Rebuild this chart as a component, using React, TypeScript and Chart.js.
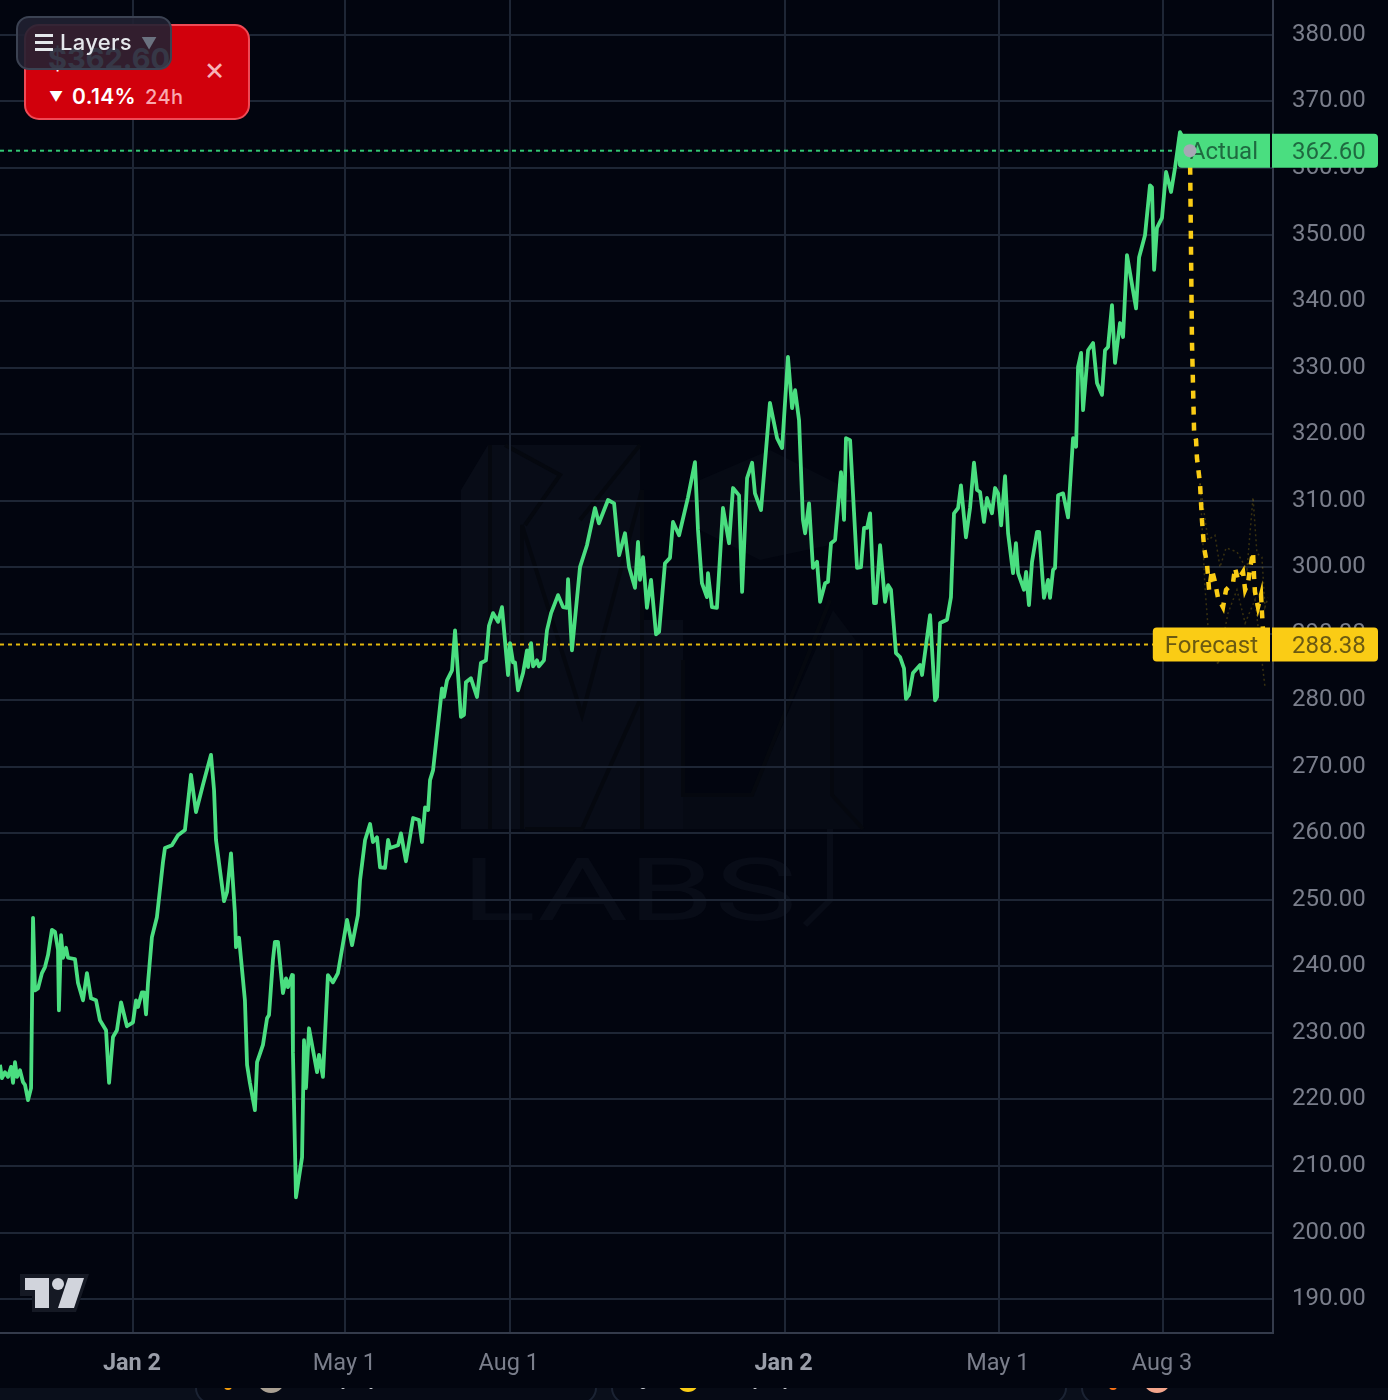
import React, { useEffect, useRef } from "react";
import { Chart, registerables } from "chart.js";

Chart.register(...registerables);

// days counted from the first "Jan 2" tick
const actualDays = [-74.5,-73.4,-71.7,-70,-68.3,-67.2,-66.1,-65,-63.3,-61.6,-60.5,-58.8,-57.1,-56,-54.9,-53.2,-51,-49.3,-47.6,-45.4,-43.7,-42,-41.5,-40.3,-39.2,-37.5,-36.4,-32.5,-30.8,-28,-25.8,-23.5,-20.7,-18.5,-15.1,-13.4,-11.2,-9,-6.7,-3.4,0,1.7,2.8,5,6.2,7.3,8.4,10.6,13.4,15.7,16.8,17.9,21.8,25.2,29.1,32.5,35.3,39.2,43.7,45.4,46.5,51,52.7,54.9,57.1,57.7,59.4,62.7,63.9,65.5,68.3,69.5,72.8,75.1,76.2,78.4,79.5,81.2,84,85.7,86.8,89.1,89.6,91.3,94.7,95.8,96.9,98.6,103.1,104.2,106.4,109.2,112,114.8,119.9,122.7,126,127.2,130,132.8,134.4,136.7,138.4,141.2,142.9,144,148.5,150.1,152.9,156.9,160.2,161.9,163.6,165.3,166.4,168.1,173.1,174.2,175.9,178.7,180.4,183.7,185.4,186.5,189.3,192.7,194.9,197.7,199.4,201.7,204.5,206.7,210.1,211.2,212.9,214,215.7,218.5,220.7,221.3,223,224.1,226.3,227.4,230.2,231.9,234.2,238.1,240.9,243.1,243.7,245.9,250.4,254.3,258.8,261,266.1,269.5,272.3,275.6,277.9,281.2,282.9,284,285.7,287.9,290.2,293,294.7,298,300.8,302.5,305.9,310.9,314.8,316.5,318.7,321.5,322.1,324.3,327.1,330.5,333.9,336.1,339.5,341.2,344,346.8,348.4,351.8,356.8,360.8,363.6,366.9,369.2,370.9,373.1,375.3,376.5,378.7,380.9,383.2,384.9,387.7,389.3,391,393.3,396.6,398.3,399.4,401.7,405.6,407.8,409.5,411.2,412.9,415.1,416.2,418.5,421.3,423,424.6,427.4,429.7,431.9,433,434.7,436.9,440.9,442,446.5,449.3,450.4,452.1,456,458.2,459.9,462.2,463.8,466.6,468.9,471.1,472.8,474.5,476.7,478.4,481.2,482.9,484.6,486.3,488.5,490.2,493,494.6,495.8,499.1,500.3,501.9,503.6,506.4,507.6,510.3,512.6,513.7,515.4,516.5,518.2,521,523.8,526.6,528.3,529.4,531.1,532.2,535,537.8,540,542.8,544.5,546.2,548.4,550.1,552.9,554.6,556.8,561.9,563.6,566.9,569.7,570.8,572,573.6,576.4,578.7,581.5,583.7,586.5,592.1];
const actualPrices = [225.2,223.2,224.1,223.4,224.9,222.5,225.6,223.4,224.4,222.6,222.2,219.9,221.7,247.3,236.4,236.7,239,239.9,241.7,245.5,245.2,242.5,233.4,244.7,241.3,242.8,241.3,241.1,237.5,234.9,239,235.2,234.9,231.9,230.4,222.5,229.4,230.4,234.6,231,231.6,234.9,233.9,236.1,236.1,232.8,237.5,244.4,247.4,253,255.7,257.8,258.2,259.7,260.5,268.8,263.2,267.3,271.8,266.5,259,249.8,251.2,257,248,242.9,244.3,234.9,225.2,222.5,218.4,225.6,228.2,232.2,232.7,241,243.7,243.7,236,238.2,236.9,238.7,227,205.3,211.3,228.9,221.7,230.7,224.1,226.7,223.4,238.7,237.6,239,247,243.2,247.7,253,259,261.4,258.7,259.4,254.9,254.8,259,257.8,258.2,260,255.8,262.3,262,258.7,263.9,263.5,268,269.5,281.8,280.5,283,284.5,290.5,277.5,277.8,282.7,283.3,280.5,285.6,286,291.2,293.1,291.8,294,283.8,288.6,285.7,285.7,281.5,284.1,287.5,285,288.6,285.1,286,285.1,286,290.5,293.1,295.8,294,293.9,298.2,287.5,300,303.3,308.9,306.6,310.1,309.6,301.8,305.1,300,296.9,303.8,298.1,301.5,293.9,298.1,289.9,290.3,300.6,301.4,306.8,304.8,310.5,315.8,305.6,297.6,295.5,299.1,294,293.9,308.9,303.6,311.9,310.8,296.3,313.4,315.7,311.1,308.6,324.7,319.4,317.9,331.6,323.9,326.6,322.1,307.1,305.1,309.6,299.9,300.8,294.8,297.6,297.8,303.6,304.1,314.3,307.1,319.4,319.1,299.9,300,305.9,305.9,308.1,294.6,294.6,303.3,294.8,297.3,296.6,287.1,286.5,284.8,280.2,280.8,284.1,285.3,283.8,292.8,280,280.5,291.6,292.1,295.5,308.1,308.9,312.3,304.5,308.9,315.7,311.6,311.3,306.8,310.4,308.1,311.9,311.1,306.3,313.7,305.1,299.1,303.6,299.1,296.6,299.3,294.3,300.8,305.3,305.3,295.4,298.1,295.4,299.6,299.9,310.8,311.1,307.5,319.4,318.1,330.1,332.2,323.6,332.6,333.7,327.7,325.9,332.6,333.1,339.4,330.7,336.7,334.6,346.9,338.9,346.6,349.9,357.4,357.1,344.7,351,352.5,359.4,356.4,360,365.4,362.6];

const forecastDays = [592.1,593.2,594.4,595.5,596,597.7,598.8,600,601.6,602.8,604.4,606.1,607.8,610.6,612.3,616.2,617.3,619,621.8,623,624.6,625.8,627.4,628,628.5,630.2,631.9,632.4,633,634.1];
const forecastPrices = [362.6,334.1,320.3,319.1,316.4,312.6,307.1,302.9,300.6,296.6,299.6,297.8,295.4,294,296.6,297.6,299.9,298.1,299.3,296.6,297.6,299.9,302.3,298.5,296.3,294,295.8,293.3,290.5,288.4];

const upperDays = [597.7,602.2,606.1,608.9,612.3,618.4,624,627.4,629.6,632.4,634.1,635.8];
const upperPrices = [312.6,304.1,304.8,300,302.9,302.3,299.6,310.5,302.1,301.5,294,295.4];
const lowerDays = [597.7,600.5,602.2,607.8,613.4,618.4,623,628.5,634.1];
const lowerPrices = [312.6,297,291,285.3,293.1,296.6,291.6,295.1,282];

const priceTicks = [190,200,210,220,230,240,250,260,270,280,290,300,310,320,330,340,350,360,370,380];
const dayTicks = [0,119,211,365,485,577];
const dayLabels = ["Jan 2","May 1","Aug 1","Jan 2","May 1","Aug 3"];
const yearStartTicks = [0,365];

const ACTUAL_PRICE = 362.6;
const FORECAST_PRICE = 288.38;
const DAY_MIN = -74.5;
const DAY_MAX = 638.6;
const PRICE_MIN = 184.9;
const PRICE_MAX = 385.25;
const FONT = "Roboto, 'Noto Sans', sans-serif";

const zip = (xs: number[], ys: number[]) => xs.map((x, i) => ({ x, y: ys[i] }));

function roundTag(ctx: CanvasRenderingContext2D, x: number, y: number, w: number, h: number, radii: number[]) {
  ctx.beginPath();
  ctx.roundRect(x, y, w, h, radii);
  ctx.fill();
}

const tagPlugin = {
  id: "priceTags",
  beforeDatasetDraw(chart: any, args: any) {
    if (args.index !== 0) return;
    const { ctx, chartArea, scales } = chart;
    const draw = (label: string, price: number, bg: string, fg: string) => {
      const y = scales.y.getPixelForValue(price);
      ctx.save();
      ctx.font = `24px ${FONT}`;
      const w = ctx.measureText(label).width + 24;
      const right = chartArea.right - 3;
      ctx.fillStyle = bg;
      roundTag(ctx, right - w, y - 17, w, 34, [4, 0, 0, 4]);
      roundTag(ctx, chartArea.right - 1, y - 17, 106, 34, [0, 4, 4, 0]);
      ctx.fillStyle = fg;
      ctx.textBaseline = "middle";
      ctx.textAlign = "left";
      ctx.fillText(label, right - w + 12, y + 2);
      ctx.fillText(price.toFixed(2), chartArea.right + 19, y + 2);
      ctx.restore();
    };
    draw("Forecast", FORECAST_PRICE, "#facc15", "#6b5a12");
    draw("Actual", ACTUAL_PRICE, "#4ade80", "#1f6a40");
  },
};

function Watermark() {
  const fill = "#080c17";
  const soft = "#060a14";
  const dark = "#05080f";
  return (
    <svg width={1388} height={1388} style={{ position: "absolute", left: 0, top: 0 }}>
      <polygon fill={fill} points="461,490 488,445 640,445 640,620 683,620 683,829 461,829" />
      <polygon fill={soft} points="683,795 752,795 833,610 863,650 863,829 683,829" />
      <polygon fill={soft} points="700,480 770,450 850,490 830,545 760,560 700,530" />
      <polyline fill="none" stroke={dark} strokeWidth={4} points="490,445 490,829" />
      <polyline fill="none" stroke={dark} strokeWidth={4} points="522,829 522,525 582,715 642,490 642,829" />
      <polyline fill="none" stroke={dark} strokeWidth={4} points="525,829 582,829 640,700" />
      <polyline fill="none" stroke={dark} strokeWidth={4} points="505,445 560,475 525,525" />
      <polyline fill="none" stroke={dark} strokeWidth={4} points="640,445 580,520" />
      <polyline fill="none" stroke={dark} strokeWidth={4} points="683,660 683,795 752,795 830,600" />
      <polyline fill="none" stroke={dark} strokeWidth={4} points="832,650 832,795 863,829" />
      <polyline fill="none" stroke={fill} strokeWidth={6} points="830,829 830,900 805,925" />
      <text x={461} y={920} fontFamily="Roboto, sans-serif" fontSize={88} fill={fill} textLength={336} lengthAdjust="spacingAndGlyphs">LABS</text>
    </svg>
  );
}

function TradingViewLogo() {
  return (
    <svg width={100} height={60} style={{ position: "absolute", left: 0, top: 1264 }}>
      <g transform="translate(0,-1264)">
        <polygon fill="#151924" points="20,1274 89,1274 76,1312 32,1312 32,1296 20,1296" />
        <polygon fill="#d1d4dc" points="25,1278 49,1278 49,1308 35,1308 35,1290 25,1290" />
        <circle cx={58} cy={1284} r={6} fill="#d1d4dc" />
        <polygon fill="#d1d4dc" points="68,1278 84,1278 74,1308 58,1308" />
      </g>
    </svg>
  );
}

function Pill({ left, right }: { left: number; right: number }) {
  return (
    <div
      style={{
        position: "absolute",
        left,
        width: right - left,
        top: 1340,
        height: 64,
        boxSizing: "border-box",
        border: "2px solid #1b2333",
        borderRadius: 16,
        background: "#060a15",
      }}
    />
  );
}

function Blob({ x, y, r, color }: { x: number; y: number; r: number; color: string }) {
  return (
    <div
      style={{
        position: "absolute",
        left: x - r,
        top: y - r,
        width: 2 * r,
        height: 2 * r,
        borderRadius: "50%",
        background: color,
      }}
    />
  );
}

function StatusCard() {
  const inter = "Inter, 'DejaVu Sans', sans-serif";
  const bar = (top: number) => (
    <div style={{ position: "absolute", left: 17, top, width: 18, height: 3, background: "#e5e7eb" }} />
  );
  return (
    <>
      <div
        style={{
          position: "absolute",
          left: 24,
          top: 24,
          width: 226,
          height: 96,
          boxSizing: "border-box",
          background: "#d1000c",
          border: "2px solid #ef4a55",
          borderRadius: 15,
          fontFamily: inter,
        }}
      >
        <div style={{ position: "absolute", left: 22, top: 15, fontSize: 29, fontWeight: 700, color: "#fff", whiteSpace: "nowrap", lineHeight: "36px" }}>$362.60</div>
        <div style={{ position: "absolute", left: 178, top: 25, fontSize: 32, lineHeight: "36px", color: "#f7b3b7" }}>×</div>
        <div style={{ position: "absolute", left: 23, top: 59, fontSize: 14, lineHeight: "24px", color: "#fff" }}>▼</div>
        <div style={{ position: "absolute", left: 46, top: 59, fontSize: 21, lineHeight: "24px", fontWeight: 600, color: "#fff", whiteSpace: "nowrap", letterSpacing: 0.4 }}>0.14%</div>
        <div style={{ position: "absolute", left: 119, top: 59, fontSize: 20, lineHeight: "24px", fontWeight: 500, color: "#f9a8ae", letterSpacing: 0.4 }}>24h</div>
      </div>
      <div
        style={{
          position: "absolute",
          left: 16,
          top: 16,
          width: 156,
          height: 54,
          boxSizing: "border-box",
          background: "rgba(32,33,50,0.9)",
          border: "2px solid #3b4252",
          borderRadius: 13,
          fontFamily: inter,
        }}
      >
        {bar(16)}
        {bar(23)}
        {bar(30)}
        <div style={{ position: "absolute", left: 42, top: 11, fontSize: 22, lineHeight: "26px", fontWeight: 500, color: "#e5e7eb", letterSpacing: 0.3 }}>Layers</div>
        <div style={{ position: "absolute", left: 123, top: 13, fontSize: 16, lineHeight: "24px", color: "#6b7280" }}>▼</div>
      </div>
    </>
  );
}

export default function App() {
  const ref = useRef<HTMLCanvasElement | null>(null);

  useEffect(() => {
    if (!ref.current) return;
    const isYearStart = (c: any) => yearStartTicks.includes(c?.tick?.value);
    const noOverhang = (s: any) => {
      s.paddingLeft = 0;
      s.paddingRight = 0;
      s.paddingTop = 0;
      s.paddingBottom = 0;
    };
    const chart = new Chart(ref.current, {
      type: "line",
      plugins: [tagPlugin],
      data: {
        datasets: [
          {
            label: "Marker",
            data: zip([forecastDays[0]], [ACTUAL_PRICE]),
            showLine: false,
            pointRadius: 6.5,
            pointBackgroundColor: "#a6a8b4",
            pointBorderWidth: 0,
          },
          {
            label: "Forecast",
            data: zip(forecastDays, forecastPrices),
            borderColor: "#facc15",
            borderWidth: 4.5,
            borderDash: [8, 8],
            pointRadius: 0,
            tension: 0,
          },
          {
            label: "Actual",
            data: zip(actualDays, actualPrices),
            borderColor: "#4ade80",
            borderWidth: 3.8,
            pointRadius: 0,
            tension: 0,
            borderJoinStyle: "round",
          },
          {
            label: "Upper",
            data: zip(upperDays, upperPrices),
            borderColor: "rgba(250,204,21,0.22)",
            borderWidth: 1.5,
            borderDash: [2, 3],
            pointRadius: 0,
          },
          {
            label: "Lower",
            data: zip(lowerDays, lowerPrices),
            borderColor: "rgba(250,204,21,0.22)",
            borderWidth: 1.5,
            borderDash: [2, 3],
            pointRadius: 0,
          },
          {
            label: "Actual price",
            data: zip([DAY_MIN, 600], [ACTUAL_PRICE, ACTUAL_PRICE]),
            borderColor: "#34c874",
            borderWidth: 2,
            borderDash: [4, 4],
            pointRadius: 0,
          },
          {
            label: "Forecast price",
            data: zip([DAY_MIN, 600], [FORECAST_PRICE, FORECAST_PRICE]),
            borderColor: "#e2b80f",
            borderWidth: 2,
            borderDash: [4, 4],
            pointRadius: 0,
          },
        ],
      },
      options: {
        animation: false,
        responsive: false,
        devicePixelRatio: 1,
        parsing: false,
        normalized: true,
        layout: { padding: 0, autoPadding: false },
        plugins: { legend: { display: false }, tooltip: { enabled: false } },
        scales: {
          x: {
            type: "linear",
            min: DAY_MIN,
            max: DAY_MAX,
            afterBuildTicks: (s: any) => {
              s.ticks = dayTicks.map((value) => ({ value }));
            },
            afterFit: (s: any) => {
              s.height = 67;
              noOverhang(s);
            },
            grid: { color: "#1e2635", lineWidth: 2, drawTicks: false },
            border: { color: "#343b4b", width: 2 },
            ticks: {
              autoSkip: false,
              maxRotation: 0,
              padding: 17,
              labelOffset: -1,
              callback: (v: any) => dayLabels[dayTicks.indexOf(Number(v))] ?? "",
              color: (c: any) => (isYearStart(c) ? "#9a9ea9" : "#7a7e8b"),
              font: (c: any) => ({ family: FONT, size: 23.5, weight: isYearStart(c) ? "700" : "400" }),
            },
          },
          y: {
            type: "linear",
            position: "right",
            min: PRICE_MIN,
            max: PRICE_MAX,
            afterBuildTicks: (s: any) => {
              s.ticks = priceTicks.map((value) => ({ value }));
            },
            afterFit: (s: any) => {
              s.width = 115;
              noOverhang(s);
            },
            grid: { color: "#1e2635", lineWidth: 2, drawTicks: false },
            border: { color: "#343b4b", width: 2 },
            ticks: {
              autoSkip: false,
              padding: 19,
              labelOffset: 0,
              color: "#7a7e8b",
              font: { family: FONT, size: 24 },
              callback: (v: any) => Number(v).toFixed(2),
            },
          },
        },
      },
    } as any);
    return () => chart.destroy();
  }, []);

  return (
    <div style={{ position: "absolute", left: 0, top: 0, width: 1388, height: 1400, overflow: "hidden", background: "#0a0f1b" }}>
      <Pill left={195} right={597} />
      <Pill left={611} right={1067} />
      <Pill left={1081} right={1400} />
      <Blob x={228} y={1386} r={4} color="#f59e0b" />
      <Blob x={271} y={1379} r={14} color="#a89f92" />
      <Blob x={343} y={1387} r={2} color="#e5e7eb" />
      <Blob x={371} y={1387} r={2} color="#e5e7eb" />
      <Blob x={643} y={1386} r={3} color="#d1d5db" />
      <Blob x={688} y={1381} r={11} color="#facc15" />
      <Blob x={755} y={1387} r={2} color="#e5e7eb" />
      <Blob x={785} y={1387} r={2} color="#e5e7eb" />
      <Blob x={1113} y={1386} r={4} color="#f97316" />
      <Blob x={1157} y={1379} r={14} color="#f3a58b" />
      <div style={{ position: "absolute", left: 0, top: 0, width: 1388, height: 1388, background: "#02050f" }} />
      <Watermark />
      <canvas ref={ref} width={1388} height={1400} style={{ position: "absolute", left: 0, top: 0, width: 1388, height: 1400, filter: "blur(0.55px)" }} />
      <TradingViewLogo />
      <StatusCard />
    </div>
  );
}
